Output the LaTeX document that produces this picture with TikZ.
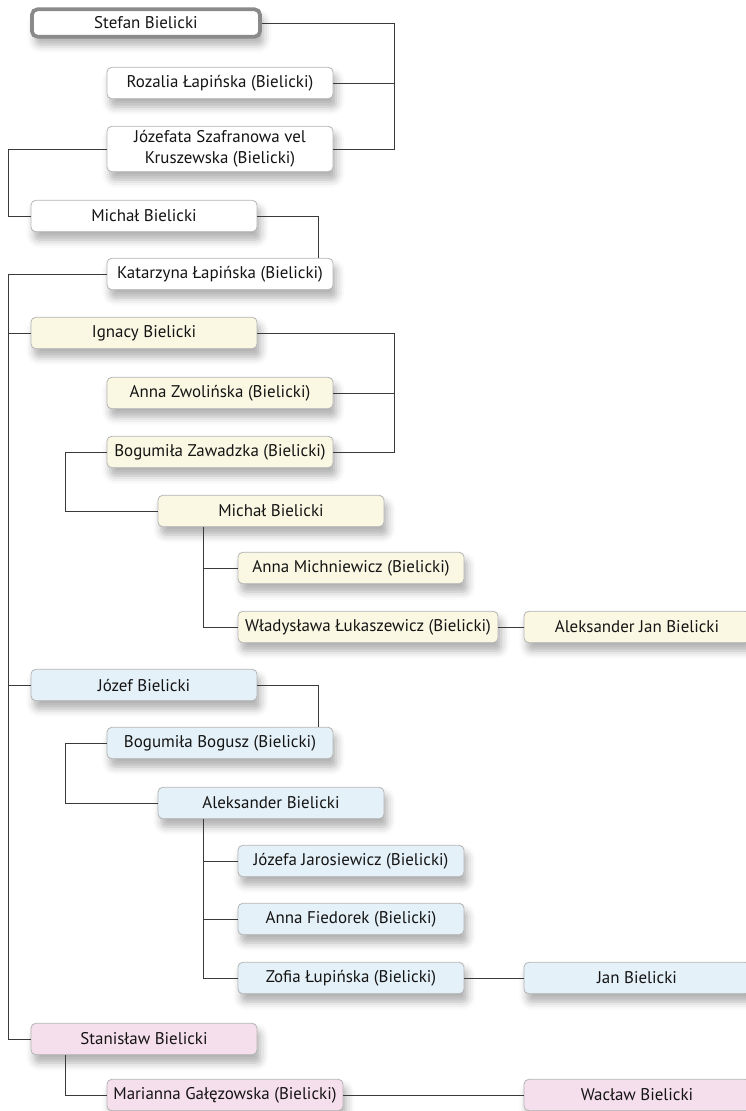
\documentclass[tikz,border=0pt]{standalone}
\usepackage{fontspec}
\setmainfont{PT Sans}
\usetikzlibrary{shadows.blur}
\definecolor{boxline}{HTML}{B4B4B4}
\definecolor{linkline}{HTML}{3A3A3A}
\definecolor{famwhite}{HTML}{FFFFFF}
\definecolor{famyellow}{HTML}{FAF8E3}
\definecolor{famblue}{HTML}{E5F1F8}
\definecolor{fampink}{HTML}{F6DFEC}
\definecolor{rootline}{HTML}{8A8A8A}
\tikzset{
  person/.style={draw=boxline, line width=0.6pt, rounded corners=3.5pt,
    minimum height=23.5pt, minimum width=169.5pt, inner sep=1pt,
    align=center, font=\fontsize{12.7pt}{15.8pt}\selectfont, text=black!92,
    blur shadow={shadow xshift=2.5pt, shadow yshift=-6pt,
      shadow blur radius=6pt, shadow opacity=32}},
  pw/.style={person, fill=famwhite},
  py/.style={person, fill=famyellow},
  pb/.style={person, fill=famblue},
  pp/.style={person, fill=fampink},
  link/.style={draw=linkline, line width=0.75pt}
}
\begin{document}
\begin{tikzpicture}[x=0.75pt, y=-0.75pt]
\useasboundingbox (0,0) rectangle (746,1111);

% bus lines (x positions)
\coordinate (trunk) at (8,0);
\coordinate (busA) at (394,0);
\coordinate (busB) at (318,0);
\coordinate (busC) at (65,0);
\coordinate (busD) at (203,0);

% first generations (white)
\node[pw, draw=rootline, line width=2.8pt, rounded corners=4pt,
      minimum width=171pt, minimum height=20.5pt] (stefan) at (146,23) {Stefan Bielicki};
\node[pw] (rozalia) at (220,83) {Rozalia Łapińska (Bielicki)};
\node[pw, minimum height=34pt] (jozefata) at (220,149) {Józefata Szafranowa vel\\Kruszewska (Bielicki)};
\node[pw] (michalA) at (144,216) {Michał Bielicki};
\node[pw] (katarzyna) at (220,274) {Katarzyna Łapińska (Bielicki)};

% Ignacy's line (yellow)
\node[py] (ignacy) at (144,333) {Ignacy Bielicki};
\node[py] (annaZ) at (220,393) {Anna Zwolińska (Bielicki)};
\node[py] (bogumilaZ) at (220,452) {Bogumiła Zawadzka (Bielicki)};
\node[py] (michalB) at (271,511) {Michał Bielicki};
\node[py] (annaM) at (351,568) {Anna Michniewicz (Bielicki)};
\node[py, minimum width=195pt] (wladyslawa) at (368,627) {Władysława Łukaszewicz (Bielicki)};
\node[py] (aleksJan) at (637,627) {Aleksander Jan Bielicki};

% Jozef's line (blue)
\node[pb] (jozef) at (144,685) {Józef Bielicki};
\node[pb] (bogumilaB) at (220,743) {Bogumiła Bogusz (Bielicki)};
\node[pb] (aleksander) at (271,803) {Aleksander Bielicki};
\node[pb] (jozefa) at (351,861) {Józefa Jarosiewicz (Bielicki)};
\node[pb] (annaF) at (351,919) {Anna Fiedorek (Bielicki)};
\node[pb] (zofia) at (351,978) {Zofia Łupińska (Bielicki)};
\node[pb] (jan) at (637,978) {Jan Bielicki};

% Stanislaw's line (pink)
\node[pp] (stanislaw) at (144,1039) {Stanisław Bielicki};
\node[pp, minimum width=177pt] (marianna) at (225,1095) {Marianna Gałęzowska (Bielicki)};
\node[pp] (waclaw) at (637,1095) {Wacław Bielicki};

% connectors
\draw[link] (stefan.east) -| (busA |- jozefata.east) -- (jozefata.east);
\draw[link] (rozalia.east) -- (rozalia.east -| busA);
\draw[link] (jozefata.west) -| (trunk |- michalA.west) -- (michalA.west);
\draw[link] (michalA.east) -| (busB |- katarzyna.north);

\draw[link] (katarzyna.west) -| (trunk |- stanislaw.west) -- (stanislaw.west);
\draw[link] (trunk |- ignacy.west) -- (ignacy.west);
\draw[link] (trunk |- jozef.west) -- (jozef.west);

\draw[link] (ignacy.east) -| (busA |- bogumilaZ.east) -- (bogumilaZ.east);
\draw[link] (annaZ.east) -- (annaZ.east -| busA);
\draw[link] (bogumilaZ.west) -| (busC |- michalB.west) -- (michalB.west);
\draw[link] (busD |- michalB.south) |- (wladyslawa.west);
\draw[link] (busD |- annaM.west) -- (annaM.west);
\draw[link] (wladyslawa.east) -- (aleksJan.west);

\draw[link] (jozef.east) -| (busB |- bogumilaB.north);
\draw[link] (bogumilaB.west) -| (busC |- aleksander.west) -- (aleksander.west);
\draw[link] (busD |- aleksander.south) |- (zofia.west);
\draw[link] (busD |- jozefa.west) -- (jozefa.west);
\draw[link] (busD |- annaF.west) -- (annaF.west);
\draw[link] (zofia.east) -- (jan.west);

\draw[link] (busC |- stanislaw.south) |- (marianna.west);
\draw[link] (marianna.east) -- (waclaw.west);
\end{tikzpicture}
\end{document}
